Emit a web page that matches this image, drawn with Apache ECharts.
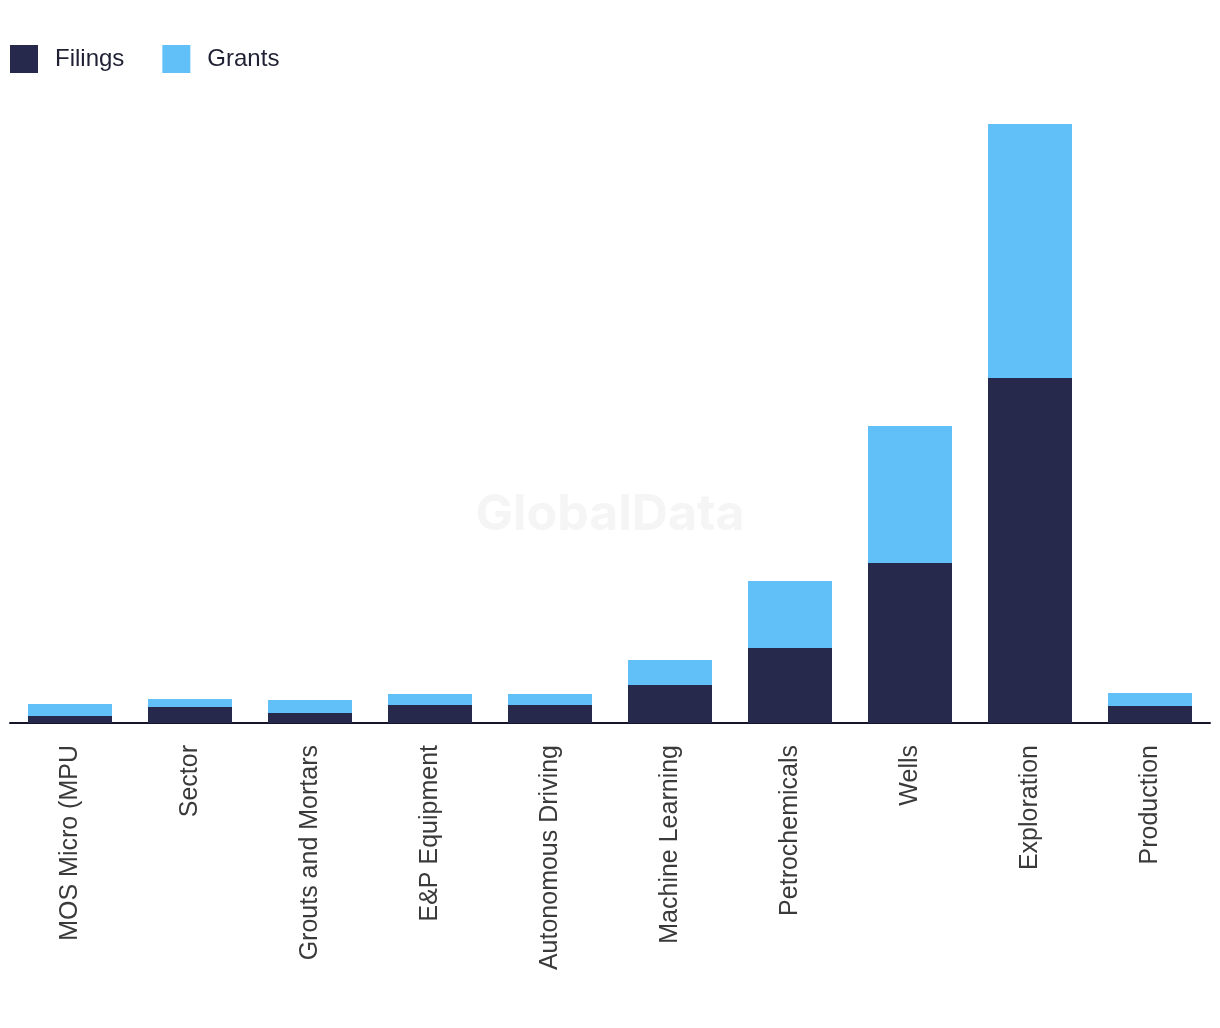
<!DOCTYPE html>
<html><head><meta charset="utf-8">
<script src="https://cdn.jsdelivr.net/npm/echarts@6/dist/echarts.min.js"></script>
<style>html,body{margin:0;padding:0;background:#fff}#c{width:1220px;height:1028px}</style>
</head><body><div id="c"></div>
<script>
const categories = ["MOS Micro (MPU","Sector","Grouts and Mortars","E&P Equipment","Autonomous Driving","Machine Learning","Petrochemicals","Wells","Exploration","Production"];
const filings = [7,16,10,18,18,38,75,160,345,17];
const grants = [12,8,13,11,11,25,67,137,254,13];
const chart = echarts.init(document.getElementById('c'));
const font = '"Liberation Sans", Arial, sans-serif';
chart.setOption({
  animation:false,
  graphic:[{type:'text',left:'center',top:490,z:0,style:{text:'GlobalData',fontSize:50,fontWeight:'bold',fontFamily:'Inter, sans-serif',fill:'#f5f5f5'}}],
  legend:{left:10,top:45,padding:0,itemWidth:28,itemHeight:28,itemGap:38,icon:'rect',
    textStyle:{fontSize:24,color:'#1f2033',fontFamily:font,padding:[0,0,0,12]},data:['Filings','Grants']},
  grid:{left:10,right:10,top:123,bottom:305,containLabel:false},
  xAxis:{type:'category',data:categories,
    axisLine:{lineStyle:{color:'#14142a',width:2}},axisTick:{show:false},
    axisLabel:{rotate:90,interval:0,margin:22,fontSize:25,color:'#3a3a3a',fontFamily:font}},
  yAxis:{type:'value',min:0,max:600,show:false,splitLine:{show:false}},
  series:[
    {name:'Filings',type:'bar',stack:'a',data:filings,barWidth:'70%',itemStyle:{color:'#26284C'}},
    {name:'Grants',type:'bar',stack:'a',data:grants,itemStyle:{color:'#62C0F9'}}
  ]
});
</script></body></html>
